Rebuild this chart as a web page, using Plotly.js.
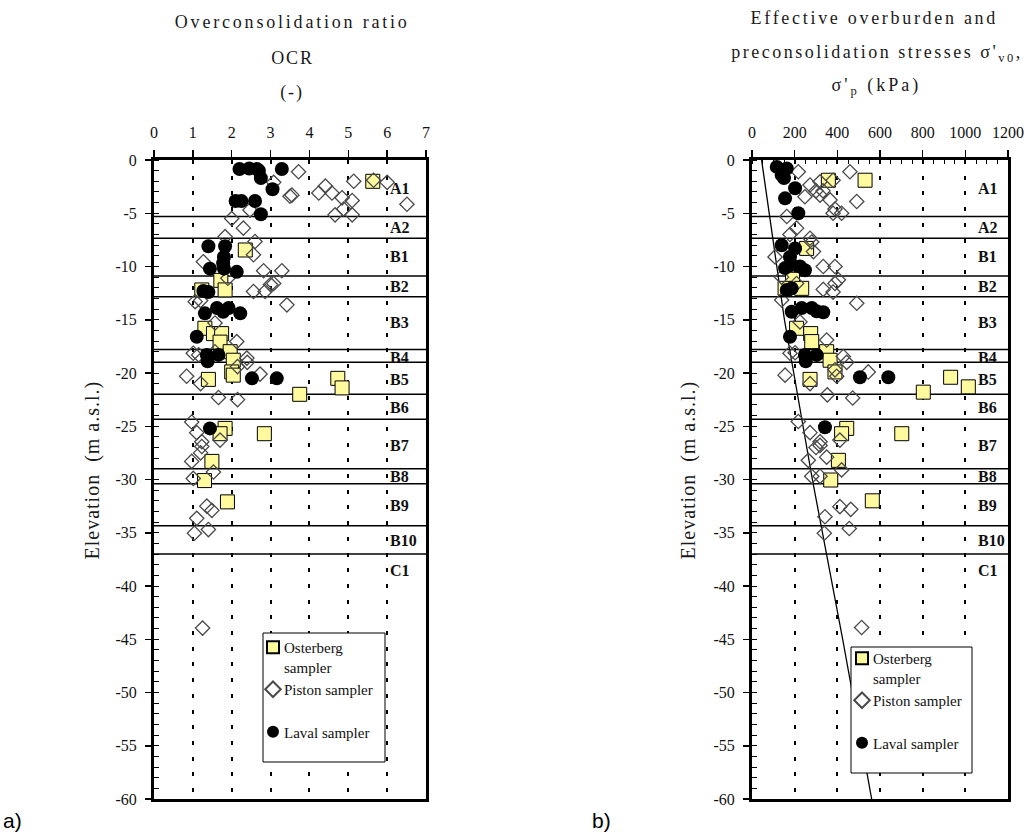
<!DOCTYPE html>
<html>
<head>
<meta charset="utf-8">
<script src="https://cdn.plot.ly/plotly-3.0.1.min.js"></script>
<style>html,body{margin:0;padding:0;background:#fff;}</style>
</head>
<body>
<div id="chart" style="width:1029px;height:834px;"></div>
<script>
// ---------- DATA ----------
// Panel a) Overconsolidation ratio OCR (-) vs elevation (m a.s.l.)
const ostOCR  = [5.63,2.35,1.72,1.23,1.83,1.31,1.53,1.74,1.70,1.96,2.04,2.00,2.04,1.40,4.73,4.84,3.75,1.83,1.70,2.84,1.49,1.30,1.89];
const ostOCRz = [-2.0,-8.45,-11.3,-12.2,-12.2,-15.8,-16.3,-16.3,-17.1,-18.0,-18.8,-19.9,-20.2,-20.6,-20.5,-21.4,-22.0,-25.2,-25.7,-25.7,-28.3,-30.1,-32.1];

const pisOCR  = [3.72,3.08,5.14,6.00,5.65,4.41,4.24,4.58,3.55,3.50,4.84,5.10,6.51,4.88,4.66,5.10,2.47,2.00,2.30,1.83,2.60,2.56,1.27,2.82,3.29,3.08,3.00,2.56,2.86,1.06,1.20,3.42,1.90,1.57,2.13,1.01,1.15,1.57,2.39,2.40,2.15,2.73,0.84,1.20,1.66,2.15,0.97,1.10,1.70,1.23,1.23,1.20,0.97,1.53,1.01,1.36,1.49,1.10,1.40,1.04,1.25];
const pisOCRz = [-1.1,-2.1,-2.0,-2.1,-1.9,-2.45,-3.1,-3.1,-3.3,-3.4,-3.55,-3.8,-4.15,-4.6,-5.15,-5.15,-4.7,-5.5,-6.4,-7.2,-7.65,-8.9,-9.55,-10.4,-10.4,-11.6,-11.7,-12.35,-12.35,-13.3,-13.2,-13.6,-11.1,-15.3,-17.05,-18.15,-18.3,-18.0,-18.6,-19.0,-19.4,-20.1,-20.3,-21.0,-22.3,-22.5,-24.6,-25.6,-26.3,-26.45,-26.9,-27.5,-28.3,-29.3,-29.9,-32.5,-32.9,-33.65,-34.7,-35.05,-43.95];

const lavOCR  = [2.20,2.45,2.65,2.70,3.29,2.75,3.05,2.10,2.25,2.60,2.75,1.40,1.83,1.80,1.78,1.44,1.80,2.13,1.27,1.40,1.31,1.62,1.92,1.78,2.22,1.10,1.36,1.66,1.38,2.52,3.16,1.44];
const lavOCRz = [-0.85,-0.8,-0.85,-1.0,-0.85,-1.7,-2.75,-3.85,-3.85,-3.85,-5.1,-8.1,-8.1,-9.1,-9.7,-10.2,-10.2,-10.5,-12.3,-12.4,-14.4,-13.9,-13.9,-14.25,-14.4,-16.6,-18.3,-18.3,-18.9,-20.5,-20.5,-25.2];

// Panel b) stresses (kPa) vs elevation
const ostSig  = [358,530,256,190,155,233,209,275,280,350,366,389,272,931,1014,803,444,420,702,405,369,564];
const ostSigz = [-1.9,-1.9,-8.3,-11.2,-12.05,-12.05,-15.8,-16.3,-17.05,-18.0,-18.8,-19.9,-20.6,-20.4,-21.3,-21.8,-25.2,-25.7,-25.7,-28.2,-30.05,-32.0];

const pisSig  = [217,459,380,319,272,300,333,248,319,366,491,389,380,420,163,209,178,272,280,288,108,334,389,405,389,334,380,139,491,139,209,225,350,178,202,428,444,389,397,545,155,272,353,472,217,272,319,319,300,350,412,264,420,280,319,412,463,342,456,339,514];
const pisSigz = [-1.1,-1.1,-1.9,-2.05,-2.35,-2.9,-2.9,-3.45,-3.3,-3.75,-3.9,-4.6,-5.0,-5.0,-5.3,-6.4,-7.0,-7.35,-7.7,-8.6,-9.1,-10.0,-10.0,-11.25,-11.6,-12.15,-12.4,-13.15,-13.45,-11.0,-11.6,-15.2,-16.9,-18.15,-18.1,-18.45,-19.0,-19.7,-20.3,-19.9,-20.2,-21.0,-22.05,-22.35,-24.55,-25.6,-26.45,-26.8,-27.0,-27.9,-26.3,-28.2,-29.1,-29.7,-29.7,-32.55,-32.8,-33.5,-34.6,-35.05,-43.9];

const lavSig  = [116,163,139,150,202,155,217,139,202,178,186,155,248,225,163,186,186,233,280,303,334,178,248,303,252,506,639,342];
const lavSigz = [-0.65,-0.8,-1.4,-1.7,-2.65,-3.6,-5.0,-8.0,-8.3,-9.1,-9.85,-10.15,-10.35,-10.0,-12.2,-12.05,-14.25,-13.9,-13.9,-14.2,-14.3,-16.6,-18.3,-18.3,-18.9,-20.4,-20.4,-25.1];

// effective overburden stress line sigma'v0
const sv0 = [45,152,283,425,561];
const sv0z = [0,-15,-30,-45,-60];

// layer boundaries and labels
const layerBounds = [-5.3,-7.35,-10.9,-12.85,-17.8,-19.0,-22.0,-24.35,-29.0,-30.4,-34.35,-37.0];
const layerNames  = ["A1","A2","B1","B2","B3","B4","B5","B6","B7","B8","B9","B10","C1"];
const layerLabelZ = [-2.7,-6.3,-9.1,-11.9,-15.3,-18.5,-20.6,-23.2,-26.8,-29.7,-32.4,-35.7,-38.5];

// tick labels
const yTickVals = [0,-5,-10,-15,-20,-25,-30,-35,-40,-45,-50,-55,-60];
const yTickText = ["0","-5","-10","-15","-20","-25","-30","-35","-40","-45","-50","-55","-60"];
const ocrTicks = [0,1,2,3,4,5,6,7];
const sigTicks = [0,200,400,600,800,1000,1200];

// ---------- STYLE ----------
const SERIF = '"Liberation Serif", "Times New Roman", serif';
const W = 1029, H = 834;
const px = v => v / W;
const py = v => 1 - v / H;

const ostMarker = {symbol:'square', size:14, color:'#FFFA9E', line:{color:'#000', width:1}};
const pisMarker = {symbol:'diamond-open', size:11, color:'#4a4a4a', line:{width:1.3}};
const lavMarker = {symbol:'circle', size:14, color:'#000', line:{width:0}};

const traces = [
  {x:ostOCR, y:ostOCRz, xaxis:'x', yaxis:'y', mode:'markers', name:'Osterberg<br>sampler', marker:ostMarker, legend:'legend', legendgroup:'a1', cliponaxis:false},
  {x:pisOCR, y:pisOCRz, xaxis:'x', yaxis:'y', mode:'markers', name:'Piston sampler', marker:pisMarker, legend:'legend', legendgroup:'a1', cliponaxis:false},
  {x:lavOCR, y:lavOCRz, xaxis:'x', yaxis:'y', mode:'markers', name:'Laval sampler', marker:lavMarker, legend:'legend', legendgroup:'a2', cliponaxis:false},
  {x:sv0, y:sv0z, xaxis:'x2', yaxis:'y2', mode:'lines', line:{color:'#000', width:1.3}, showlegend:false, hoverinfo:'skip'},
  {x:ostSig, y:ostSigz, xaxis:'x2', yaxis:'y2', mode:'markers', name:'Osterberg<br>sampler', marker:ostMarker, legend:'legend2', legendgroup:'b1', cliponaxis:false},
  {x:pisSig, y:pisSigz, xaxis:'x2', yaxis:'y2', mode:'markers', name:'Piston sampler', marker:pisMarker, legend:'legend2', legendgroup:'b1', cliponaxis:false},
  {x:lavSig, y:lavSigz, xaxis:'x2', yaxis:'y2', mode:'markers', name:'Laval sampler', marker:lavMarker, legend:'legend2', legendgroup:'b2', cliponaxis:false}
];

const gridDash = '4px,11.7px';
function xAxis(domain, range, tickvals, minor) {
  const ax = {
    domain: domain, range: range, side:'top', tickvals: tickvals,
    ticks:'outside', ticklen:7, tickwidth:1.5, tickcolor:'#000',
    tickfont:{family:SERIF, size:16, color:'#111'},
    showline:true, linewidth:3, linecolor:'#000', mirror:true,
    showgrid:true, gridcolor:'#000', gridwidth:2, griddash:gridDash,
    zeroline:false, fixedrange:true, ticklabelstandoff:6
  };
  if (minor) ax.minor = minor;
  return ax;
}
function yAxis(anchor) {
  return {
    domain:[py(799), py(160)], range:[-60,0], anchor:anchor,
    tickvals:yTickVals, ticktext:yTickText,
    ticks:'outside', ticklen:6, tickwidth:1.5, tickcolor:'#000',
    minor:{ticks:'inside', dtick:1, ticklen:5, tickwidth:1, tickcolor:'#000', showgrid:false},
    tickfont:{family:SERIF, size:16, color:'#111'},
    showline:true, linewidth:3, linecolor:'#000', mirror:true,
    showgrid:false, zeroline:false, fixedrange:true, ticklabelstandoff:5
  };
}

const shapes = [];
layerBounds.forEach(b => {
  shapes.push({type:'line', xref:'x domain', yref:'y', x0:0, x1:1, y0:b, y1:b, line:{color:'#000', width:1.5}, layer:'below'});
  shapes.push({type:'line', xref:'x2 domain', yref:'y2', x0:0, x1:1, y0:b, y1:b, line:{color:'#000', width:1.5}, layer:'below'});
});
// legend frames (white boxes that hide the grid behind the legends)
shapes.push({type:'rect', xref:'paper', yref:'paper', x0:px(263), x1:px(385), y0:py(762), y1:py(633), fillcolor:'#fff', line:{color:'#000', width:1}, layer:'above'});
shapes.push({type:'rect', xref:'paper', yref:'paper', x0:px(851), x1:px(972), y0:py(773), y1:py(647), fillcolor:'#fff', line:{color:'#000', width:1}, layer:'above'});

const titleFont = {family:SERIF, size:18, color:'#1a1a1a'};
const annotations = [
  {xref:'paper', yref:'paper', x:px(292), y:py(22), text:'Overconsolidation ratio', showarrow:false, font:titleFont, xanchor:'center', yanchor:'middle'},
  {xref:'paper', yref:'paper', x:px(292), y:py(58), text:'OCR', showarrow:false, font:titleFont, xanchor:'center', yanchor:'middle'},
  {xref:'paper', yref:'paper', x:px(292), y:py(93), text:'(-)', showarrow:false, font:titleFont, xanchor:'center', yanchor:'middle'},
  {xref:'paper', yref:'paper', x:px(874), y:py(18), text:'Effective overburden and', showarrow:false, font:titleFont, xanchor:'center', yanchor:'middle'},
  {xref:'paper', yref:'paper', x:px(877), y:py(53), text:"preconsolidation stresses \u03c3'<sub>v0</sub>,", showarrow:false, font:titleFont, xanchor:'center', yanchor:'middle'},
  {xref:'paper', yref:'paper', x:px(876), y:py(86), text:"\u03c3'<sub>p</sub> (kPa)", showarrow:false, font:titleFont, xanchor:'center', yanchor:'middle'},
  {xref:'paper', yref:'paper', x:px(92), y:py(470), text:'Elevation  (m a.s.l.)', textangle:-90, showarrow:false, font:{family:SERIF, size:20, color:'#1a1a1a'}, xanchor:'center', yanchor:'middle'},
  {xref:'paper', yref:'paper', x:px(688), y:py(470), text:'Elevation  (m a.s.l.)', textangle:-90, showarrow:false, font:{family:SERIF, size:20, color:'#1a1a1a'}, xanchor:'center', yanchor:'middle'},
  {xref:'paper', yref:'paper', x:px(1), y:py(820), text:'a)', showarrow:false, font:{family:'"Liberation Sans", Arial, sans-serif', size:21, color:'#000'}, xanchor:'left', yanchor:'middle'},
  {xref:'paper', yref:'paper', x:px(590), y:py(820), text:'b)', showarrow:false, font:{family:'"Liberation Sans", Arial, sans-serif', size:21, color:'#000'}, xanchor:'left', yanchor:'middle'}
];
layerNames.forEach((n, i) => {
  annotations.push({xref:'x', yref:'y', x:6.02, y:layerLabelZ[i], text:'<b>'+n+'</b>', showarrow:false, xanchor:'left', yanchor:'middle', font:{family:SERIF, size:16, color:'#111'}});
  annotations.push({xref:'x2', yref:'y2', x:1050, y:layerLabelZ[i], text:'<b>'+n+'</b>', showarrow:false, xanchor:'left', yanchor:'middle', font:{family:SERIF, size:16, color:'#111'}});
});

const legendBase = {
  bgcolor:'rgba(0,0,0,0)', borderwidth:0,
  font:{family:SERIF, size:15, color:'#111'},
  itemsizing:'constant', valign:'top', xanchor:'left', yanchor:'top',
  itemwidth:30, tracegroupgap:20, traceorder:'grouped'
};

const layout = {
  width:W, height:H, autosize:false,
  margin:{l:0, r:0, t:0, b:0, pad:0},
  paper_bgcolor:'#fff', plot_bgcolor:'#fff',
  showlegend:true,
  xaxis: xAxis([px(154), px(426)], [0,7], ocrTicks, null),
  yaxis: yAxis('x'),
  xaxis2: xAxis([px(752), px(1008)], [0,1200], sigTicks, {ticks:'inside', dtick:50, ticklen:4, tickwidth:1, tickcolor:'#000', showgrid:false}),
  yaxis2: yAxis('x2'),
  legend: Object.assign({}, legendBase, {x:px(253), y:py(631)}),
  legend2: Object.assign({}, legendBase, {x:px(842), y:py(642)}),
  shapes: shapes,
  annotations: annotations
};
layout.xaxis.anchor = 'y';
layout.xaxis2.anchor = 'y2';

function polish(gd) {
  // mimic the wide letter spacing of the original titles
  const spacing = {0:2.8, 1:1.8, 2:1.8, 3:2.7, 4:2.5, 5:3.0, 6:1.0, 7:1.0};
  gd.querySelectorAll('g.annotation').forEach(g => {
    const idx = +g.getAttribute('data-index');
    if (spacing[idx] !== undefined) {
      g.querySelectorAll('text').forEach(t => { t.style.letterSpacing = spacing[idx] + 'px'; });
    }
  });
  // tighter symbol-to-text gap in both legends, as in the original (idempotent)
  document.querySelectorAll('text.legendtext, text.legend2text').forEach(t => {
    t.setAttribute('x', '31');
    t.querySelectorAll('tspan').forEach(s => { if (s.hasAttribute('x')) s.setAttribute('x', '31'); });
  });
}

Plotly.newPlot('chart', traces, layout, {staticPlot:true, displayModeBar:false}).then(gd => {
  polish(gd);
  gd.on('plotly_afterplot', () => polish(gd));
  let n = 0;
  const timer = setInterval(() => { polish(gd); if (++n > 60) clearInterval(timer); }, 25);
});
</script>
</body>
</html>
